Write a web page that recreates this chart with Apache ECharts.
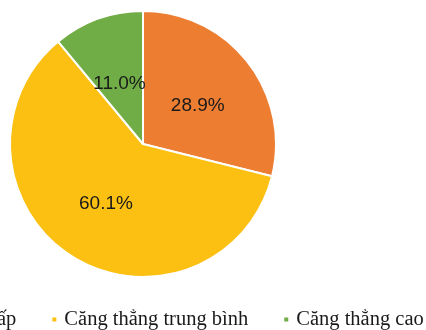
<!DOCTYPE html>
<html>
<head>
<meta charset="utf-8">
<script src="https://cdn.jsdelivr.net/npm/echarts@6/dist/echarts.min.js"></script>
<style>
html,body{margin:0;padding:0;background:#fff;}
#c{width:426px;height:330px;}
</style>
</head>
<body>
<div id="c"></div>
<script>
const categories = ['Căng thẳng thấp', 'Căng thẳng trung bình', 'Căng thẳng cao'];
const values = [28.9, 60.1, 11.0];
const colors = ['#ED7D31', '#FBC012', '#70AD47'];
const labelShift = [[0, 5], [0, 1], [0, 5]];

const chart = echarts.init(document.getElementById('c'), null, {renderer: 'canvas'});
chart.setOption({
  animation: false,
  backgroundColor: '#ffffff',
  legend: {
    data: categories,
    left: -137,
    top: 304,
    width: 800,
    orient: 'horizontal',
    icon: 'rect',
    itemWidth: 6,
    itemHeight: 6,
    itemGap: 34,
    textStyle: {fontFamily: 'Liberation Serif', fontSize: 20.5, color: '#1a1a1a', padding: [0,0,0,2]}
  },
  series: [{
    type: 'pie',
    center: [143, 144],
    radius: [0, 133],
    startAngle: 90,
    clockwise: true,
    avoidLabelOverlap: false,
    label: {
      show: true,
      position: 'inside',
      formatter: p => p.value.toFixed(1) + '%',
      fontFamily: 'Liberation Sans',
      fontSize: 19,
      color: '#1a1a1a'
    },
    labelLine: {show: false},
    itemStyle: {borderColor: '#ffffff', borderWidth: 2},
    data: categories.map((n, i) => ({name: n, value: values[i], itemStyle: {color: colors[i]}, label: {offset: labelShift[i]}}))
  }]
});
</script>
</body>
</html>
